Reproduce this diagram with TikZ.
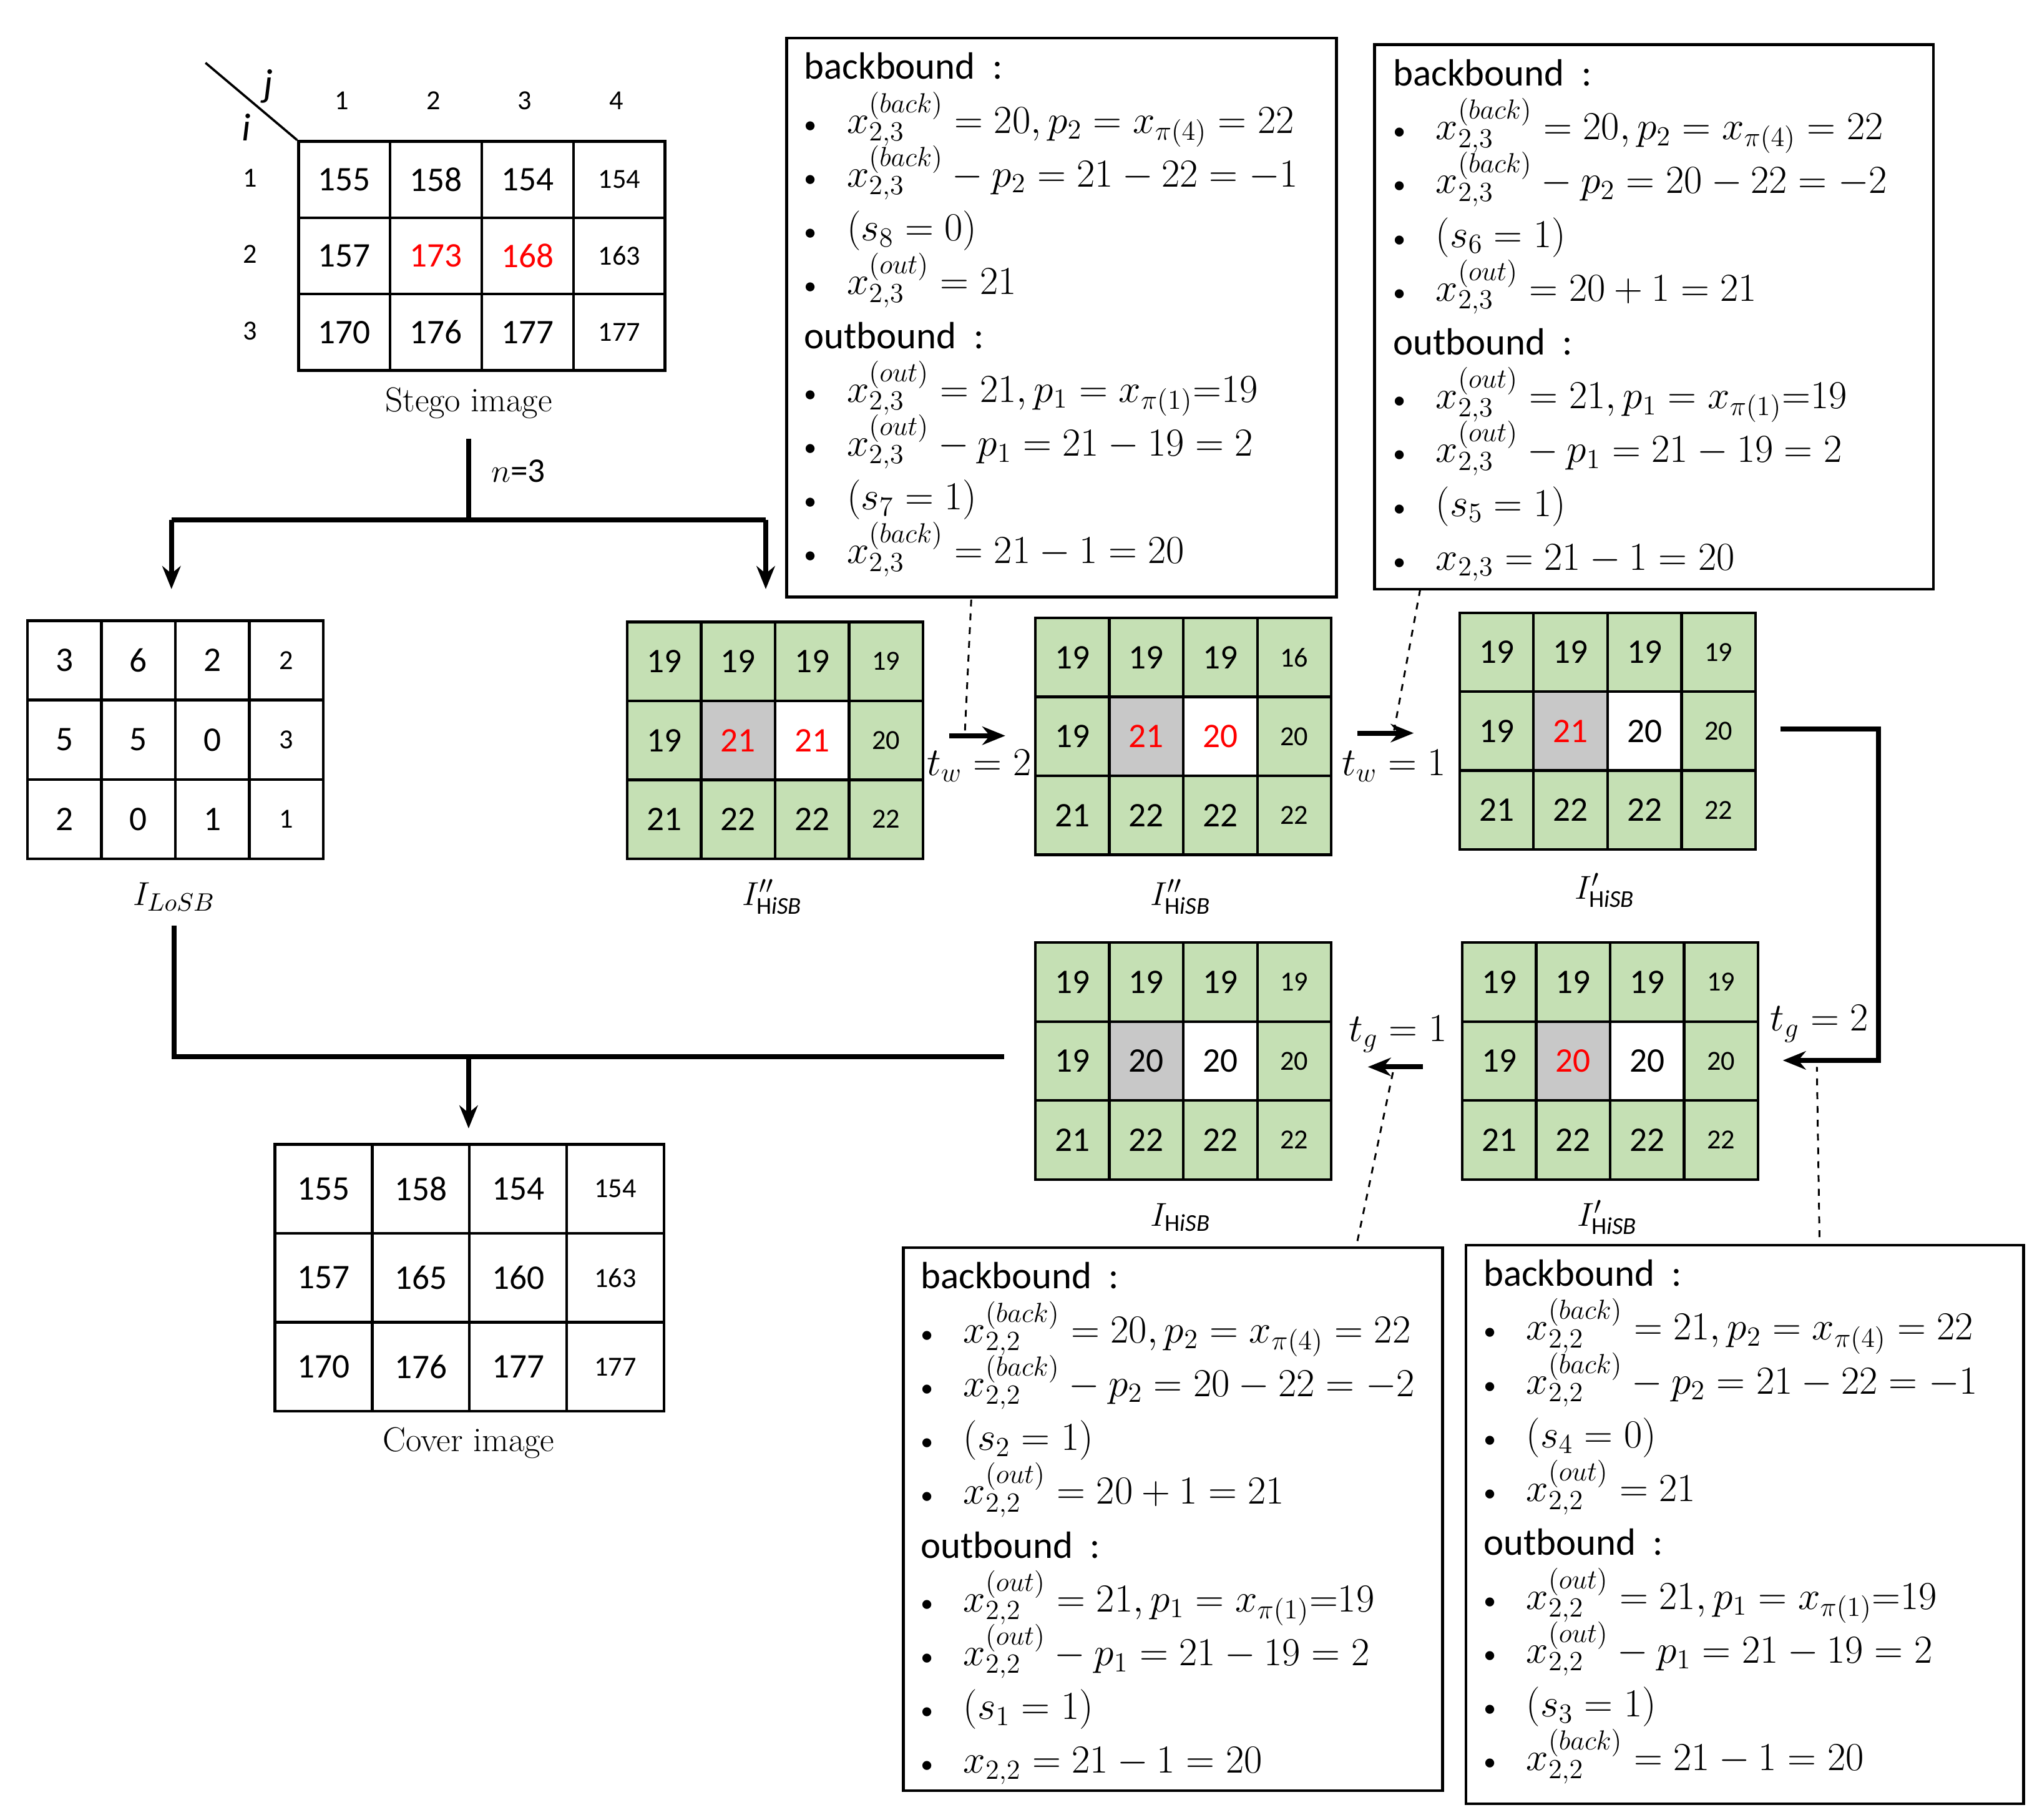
\documentclass[tikz,border=0pt]{standalone}
\usepackage{fontspec}
\setmainfont{Carlito}
\newfontfamily\serif{Latin Modern Roman}
\usetikzlibrary{arrows.meta,calc}
\definecolor{cg}{HTML}{C5E0B4}
\definecolor{cd}{HTML}{C8C8C8}
\definecolor{cw}{HTML}{FFFFFF}
\newcommand\bigf{\fontsize{15}{17}\selectfont}
\newcommand\smf{\fontsize{12}{14}\selectfont}
\newcommand\boxf{\fontsize{16.5}{23.4}\selectfont\lineskiplimit=-20pt\lineskip=0pt}
\newcommand\bu{\makebox[0.9em][l]{\fontsize{11}{12}\selectfont\textbullet}\ }
\tikzset{
 mycell/.style={draw,line width=1.2pt,inner sep=0pt,anchor=north west},
 myconn/.style={line width=2.2pt,-{Stealth[length=10pt,width=8pt]}},
 myline/.style={line width=2.2pt},
 mydash/.style={dashed,line width=0.8pt},
 mybox/.style={draw,line width=1.2pt,anchor=north west,inner sep=0pt},
 mytext/.style={anchor=north west,align=left,font=\boxf,inner sep=0pt},
 mylab/.style={font=\fontsize{15}{17}\selectfont},
 mybig/.style={font=\fontsize{17}{19}\selectfont},
 mycapt/.style={font=\serif\fontsize{15}{17}\selectfont}
}
\newcommand\grow[6]{%
  \foreach \ff/\vv [count=\ci] in {#6} {%
    \ifnum\ci=4 \tikzset{mycellf/.style={font=\smf}}\else\tikzset{mycellf/.style={font=\bigf}}\fi
    \node[mycell,mycellf,fill=\ff,minimum width=#4*0.02cm,minimum height=#5*0.02cm]
      (#1-\ci) at ({#2+(\ci-1)*#4},#3) {\vv};
  }}
\begin{document}
\begin{tikzpicture}[x=0.02cm,y=-0.02cm]
\useasboundingbox (0,0) rectangle (1560,1390);
% stego
\grow{s1}{227}{107}{70}{58.3}{cw/155,cw/158,cw/154,cw/154}
\grow{s2}{227}{165.3}{70}{58.3}{cw/157,cw/{\color{red}173},cw/{\color{red}168},cw/163}
\grow{s3}{227}{223.6}{70}{58.3}{cw/170,cw/176,cw/177,cw/177}
\node[font=\smf] (ch1) at (261,77) {1};
\node[font=\smf] (ch2) at (331,77) {2};
\node[font=\smf] (ch3) at (401,77) {3};
\node[font=\smf] (ch4) at (471,77) {4};
\node[font=\smf] (rh1) at (191,136) {1};
\node[font=\smf] (rh2) at (191,194) {2};
\node[font=\smf] (rh3) at (191,253) {3};
\coordinate (d1) at (157,48); \coordinate (d2) at (227,107);
\draw[line width=1pt] (d1) -- (d2);
\node[mybig] (jj) at (205,66) {\itshape j};
\node[mybig] (ii) at (188,97) {\itshape i};
\node[mycapt] (stc) at (358,308) {Stego image};
% LoSB
\grow{l1}{20}{473}{56.5}{60.7}{cw/3,cw/6,cw/2,cw/2}
\grow{l2}{20}{533.7}{56.5}{60.7}{cw/5,cw/5,cw/0,cw/3}
\grow{l3}{20}{594.4}{56.5}{60.7}{cw/2,cw/0,cw/1,cw/1}
\node[mylab] (llab) at (133,685) {$I_{LoSB}$};
% cover
\grow{c1}{209}{873}{74.3}{68}{cw/155,cw/158,cw/154,cw/154}
\grow{c2}{209}{941}{74.3}{68}{cw/157,cw/165,cw/160,cw/163}
\grow{c3}{209}{1009}{74.3}{68}{cw/170,cw/176,cw/177,cw/177}
\node[mycapt] (cvc) at (358,1102) {Cover image};
% green grids
\grow{ga1}{478}{474}{56.5}{60.3}{cg/19,cg/19,cg/19,cg/19}
\grow{ga2}{478}{534.3}{56.5}{60.3}{cg/19,cd/{\color{red}21},cw/{\color{red}21},cg/20}
\grow{ga3}{478}{594.6}{56.5}{60.3}{cg/21,cg/22,cg/22,cg/22}
\grow{gb1}{790}{471}{56.5}{60.3}{cg/19,cg/19,cg/19,cg/16}
\grow{gb2}{790}{531.3}{56.5}{60.3}{cg/19,cd/{\color{red}21},cw/{\color{red}20},cg/20}
\grow{gb3}{790}{591.6}{56.5}{60.3}{cg/21,cg/22,cg/22,cg/22}
\grow{gc1}{1114}{467}{56.5}{60.3}{cg/19,cg/19,cg/19,cg/19}
\grow{gc2}{1114}{527.3}{56.5}{60.3}{cg/19,cd/{\color{red}21},cw/20,cg/20}
\grow{gc3}{1114}{587.6}{56.5}{60.3}{cg/21,cg/22,cg/22,cg/22}
\grow{gd1}{1116}{719}{56.5}{60.3}{cg/19,cg/19,cg/19,cg/19}
\grow{gd2}{1116}{779.3}{56.5}{60.3}{cg/19,cd/{\color{red}20},cw/20,cg/20}
\grow{gd3}{1116}{839.6}{56.5}{60.3}{cg/21,cg/22,cg/22,cg/22}
\grow{ge1}{790}{719}{56.5}{60.3}{cg/19,cg/19,cg/19,cg/19}
\grow{ge2}{790}{779.3}{56.5}{60.3}{cg/19,cd/20,cw/20,cg/20}
\grow{ge3}{790}{839.6}{56.5}{60.3}{cg/21,cg/22,cg/22,cg/22}
\node[mylab] (g1l) at (590,685) {$I''_{\mathrm{H}\mathit{iSB}}$};
\node[mylab] (g2l) at (902,685) {$I''_{\mathrm{H}\mathit{iSB}}$};
\node[mylab] (g3l) at (1226,680) {$I'_{\mathrm{H}\mathit{iSB}}$};
\node[mylab] (g4l) at (1228,930) {$I'_{\mathrm{H}\mathit{iSB}}$};
\node[mylab] (g5l) at (902,930) {$I_{\mathrm{H}\mathit{iSB}}$};
% connectors from stego
\coordinate (a0) at (358,335); \coordinate (a1) at (358,397);
\coordinate (aL) at (131,397); \coordinate (aR) at (585,397);
\coordinate (aLe) at (131,450); \coordinate (aRe) at (585,450);
\draw[myline] (a0) -- (a1); \draw[myline] (aL) -- (aR);
\draw[myconn] (aL) -- (aLe); \draw[myconn] (aR) -- (aRe);
\node[mylab] (nlab) at (396,360) {$n$=3};
% LoSB to cover
\coordinate (b0) at (133,707); \coordinate (b1) at (133,807); \coordinate (b2) at (767,807);
\coordinate (b3) at (358,807); \coordinate (b4) at (358,862);
\draw[myline] (b0) -- (b1) -- (b2);
\draw[myconn] (b3) -- (b4);
% tw arrows
\coordinate (t1s) at (725,562); \coordinate (t1e) at (768,562);
\draw[myconn] (t1s) -- (t1e);
\node[mybig] (tw2) at (748,585) {$t_w=2$};
\coordinate (t2s) at (1037,560); \coordinate (t2e) at (1080,560);
\draw[myconn] (t2s) -- (t2e);
\node[mybig] (tw1) at (1065,585) {$t_w=1$};
\coordinate (r0) at (1360,557); \coordinate (r1) at (1435,557); \coordinate (r2) at (1435,810); \coordinate (r3) at (1362,810);
\draw[myconn] (r0) -- (r1) -- (r2) -- (r3);
\node[mybig] (tg2) at (1390,782) {$t_g=2$};
\coordinate (q0) at (1087,815); \coordinate (q1) at (1045,815);
\draw[myconn] (q0) -- (q1);
\node[mybig] (tg1) at (1068,790) {$t_g=1$};
% dashed
\coordinate (e1) at (742,458); \coordinate (e2) at (737,562);
\coordinate (e3) at (1085,450); \coordinate (e4) at (1065,558);
\coordinate (e5) at (1037,948); \coordinate (e6) at (1065,815);
\coordinate (e7) at (1390,945); \coordinate (e8) at (1388,815);
\draw[mydash] (e1)--(e2); \draw[mydash] (e3)--(e4); \draw[mydash] (e5)--(e6); \draw[mydash] (e7)--(e8);
% boxes
\node[mybox,minimum width=8.4cm,minimum height=8.54cm] (B1) at (600,28) {};
\node[mytext] (T1) at (614,40) {backbound\ \ :\\
\bu $x^{(back)}_{2,3}=20,p_2=x_{\pi(4)}=22$\\
\bu $x^{(back)}_{2,3}-p_2=21-22=-1$\\
\bu $(s_8=0)$\\
\bu $x^{(out)}_{2,3}=21$\\
outbound\ \ :\\
\bu $x^{(out)}_{2,3}=21,p_1=x_{\pi(1)}{=}19$\\
\bu $x^{(out)}_{2,3}-p_1=21-19=2$\\
\bu $(s_7=1)$\\
\bu $x^{(back)}_{2,3}=21-1=20$};
\node[mybox,minimum width=8.54cm,minimum height=8.32cm] (B2) at (1049,33) {};
\node[mytext] (T2) at (1064,45) {backbound\ \ :\\
\bu $x^{(back)}_{2,3}=20,p_2=x_{\pi(4)}=22$\\
\bu $x^{(back)}_{2,3}-p_2=20-22=-2$\\
\bu $(s_6=1)$\\
\bu $x^{(out)}_{2,3}=20+1=21$\\
outbound\ \ :\\
\bu $x^{(out)}_{2,3}=21,p_1=x_{\pi(1)}{=}19$\\
\bu $x^{(out)}_{2,3}-p_1=21-19=2$\\
\bu $(s_5=1)$\\
\bu $x_{2,3}=21-1=20$};
\node[mybox,minimum width=8.24cm,minimum height=8.3cm] (B3) at (689,952) {};
\node[mytext] (T3) at (703,964) {backbound\ \ :\\
\bu $x^{(back)}_{2,2}=20,p_2=x_{\pi(4)}=22$\\
\bu $x^{(back)}_{2,2}-p_2=20-22=-2$\\
\bu $(s_2=1)$\\
\bu $x^{(out)}_{2,2}=20+1=21$\\
outbound\ \ :\\
\bu $x^{(out)}_{2,2}=21,p_1=x_{\pi(1)}{=}19$\\
\bu $x^{(out)}_{2,2}-p_1=21-19=2$\\
\bu $(s_1=1)$\\
\bu $x_{2,2}=21-1=20$};
\node[mybox,minimum width=8.52cm,minimum height=8.54cm] (B4) at (1119,950) {};
\node[mytext] (T4) at (1133,962) {backbound\ \ :\\
\bu $x^{(back)}_{2,2}=21,p_2=x_{\pi(4)}=22$\\
\bu $x^{(back)}_{2,2}-p_2=21-22=-1$\\
\bu $(s_4=0)$\\
\bu $x^{(out)}_{2,2}=21$\\
outbound\ \ :\\
\bu $x^{(out)}_{2,2}=21,p_1=x_{\pi(1)}{=}19$\\
\bu $x^{(out)}_{2,2}-p_1=21-19=2$\\
\bu $(s_3=1)$\\
\bu $x^{(back)}_{2,2}=21-1=20$};
\end{tikzpicture}
\end{document}
